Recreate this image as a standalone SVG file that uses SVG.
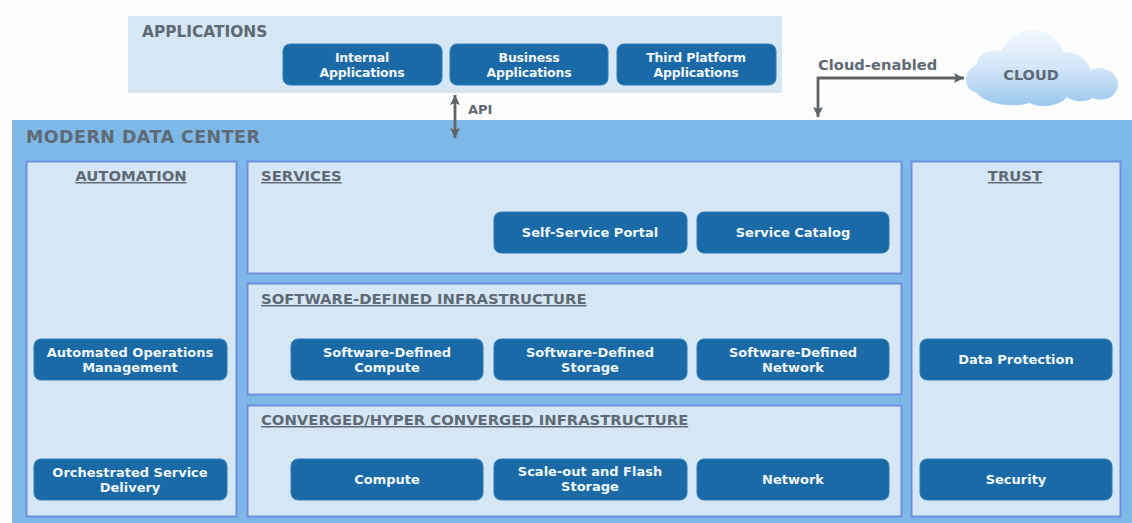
<svg xmlns="http://www.w3.org/2000/svg" width="1132" height="523" viewBox="0 0 1132 523">
<style>
text{font-family:"DejaVu Sans","Liberation Sans",sans-serif;font-weight:700}
.panel{fill:#d5e7f4;stroke:#6f8fdc;stroke-width:2}
.btn{fill:#1a6aa8;stroke:#2f7db8;stroke-width:1}
.bt{fill:#f1f6fa;font-size:12.5px;text-anchor:middle;letter-spacing:-.2px}
.bl{fill:#f1f6fa;font-size:13px;text-anchor:middle}
.h{fill:#5f6a76;font-size:14.8px;text-decoration:underline}
.m{fill:#5f6a76}
.conn{fill:none;stroke:#5e6468;stroke-width:2.8}
</style>
<defs>
<marker id="a" markerUnits="userSpaceOnUse" markerWidth="12" markerHeight="12" refX="10" refY="6" orient="auto-start-reverse"><path d="M0 1L10 6L0 11L2 6Z" fill="#5e6468"/></marker>
<linearGradient id="cg" x1="0" y1="0" x2="0" y2="1"><stop offset="0" stop-color="#f2f8fd"/><stop offset=".5" stop-color="#d3e6f8"/><stop offset="1" stop-color="#9cc7ef"/></linearGradient>
</defs>
<rect width="1132" height="523" fill="#fdfdfd"/>
<g id="data-center"><rect x="12" y="120" width="1120" height="403" fill="#7db8e8"/><text x="26" y="143" class="m" font-size="17.400" letter-spacing=".5">MODERN DATA CENTER</text></g>
<g id="applications"><rect x="128" y="16" width="654" height="77" fill="#d5e7f4"/><text x="142" y="37" class="m" font-size="15.400">APPLICATIONS</text></g>
<g id="internal-applications"><rect class="btn" x="283" y="44" width="159" height="41" rx="7"/><text class="bt" x="362" y="62">Internal</text><text class="bt" x="362" y="77">Applications</text></g>
<g id="business-applications"><rect class="btn" x="450" y="44" width="158" height="41" rx="7"/><text class="bt" x="529" y="62">Business</text><text class="bt" x="529" y="77">Applications</text></g>
<g id="third-platform-applications"><rect class="btn" x="617" y="44" width="159" height="41" rx="7"/><text class="bt" x="696" y="62">Third Platform</text><text class="bt" x="696" y="77">Applications</text></g>
<g id="cloud"><path d="M976 92C963 90 962 70 977 65C976 55 990 48 1002 51C1008 34 1036 22 1051 36C1058 41 1062 46 1064 52C1075 52 1085 56 1091 70C1102 64 1118 72 1118 84C1118 96 1105 103 1093 98C1085 103 1073 102 1067 97C1060 106 1040 109 1030 103C1015 108 985 105 976 92Z" fill="url(#cg)"/><text x="1031" y="80" class="m" font-size="14.500" text-anchor="middle">CLOUD</text></g>
<g id="connectors">
<path class="conn" d="M455 95V138" marker-start="url(#a)" marker-end="url(#a)"/>
<path class="conn" d="M964 78H818V117" marker-start="url(#a)" marker-end="url(#a)"/>
<text x="468" y="114" class="m" font-size="13">API</text>
<text x="818" y="70" class="m" font-size="14.700">Cloud-enabled</text>
</g>
<g id="automation"><rect class="panel" x="26.500" y="161.500" width="210" height="355"/><text class="h" x="131" y="181" text-anchor="middle">AUTOMATION</text></g>
<g id="services"><rect class="panel" x="247.500" y="161.500" width="654" height="112"/><text class="h" x="261" y="181">SERVICES</text></g>
<g id="software-defined-infrastructure"><rect class="panel" x="247.500" y="283.500" width="654" height="111"/><text class="h" x="261" y="304">SOFTWARE-DEFINED INFRASTRUCTURE</text></g>
<g id="converged-infrastructure"><rect class="panel" x="247.500" y="405.500" width="654" height="111"/><text class="h" x="261" y="425">CONVERGED/HYPER CONVERGED INFRASTRUCTURE</text></g>
<g id="trust"><rect class="panel" x="911.500" y="161.500" width="209" height="355"/><text class="h" x="1015" y="181" text-anchor="middle">TRUST</text></g>
<g id="automated-operations"><rect class="btn" x="34" y="339" width="193" height="41" rx="7"/><text class="bl" x="130" y="357">Automated Operations</text><text class="bl" x="130" y="372">Management</text></g>
<g id="orchestrated-service"><rect class="btn" x="34" y="459" width="193" height="41" rx="7"/><text class="bl" x="130" y="477">Orchestrated Service</text><text class="bl" x="130" y="492">Delivery</text></g>
<g id="self-service-portal"><rect class="btn" x="494" y="212" width="193" height="41" rx="7"/><text class="bl" x="590" y="237">Self-Service Portal</text></g>
<g id="service-catalog"><rect class="btn" x="697" y="212" width="192" height="41" rx="7"/><text class="bl" x="793" y="237">Service Catalog</text></g>
<g id="sd-compute"><rect class="btn" x="291" y="339" width="192" height="41" rx="7"/><text class="bl" x="387" y="357">Software-Defined</text><text class="bl" x="387" y="372">Compute</text></g>
<g id="sd-storage"><rect class="btn" x="494" y="339" width="193" height="41" rx="7"/><text class="bl" x="590" y="357">Software-Defined</text><text class="bl" x="590" y="372">Storage</text></g>
<g id="sd-network"><rect class="btn" x="697" y="339" width="192" height="41" rx="7"/><text class="bl" x="793" y="357">Software-Defined</text><text class="bl" x="793" y="372">Network</text></g>
<g id="compute"><rect class="btn" x="291" y="459" width="192" height="41" rx="7"/><text class="bl" x="387" y="484">Compute</text></g>
<g id="scale-out"><rect class="btn" x="494" y="459" width="193" height="41" rx="7"/><text class="bl" x="590" y="476">Scale-out and Flash</text><text class="bl" x="590" y="491">Storage</text></g>
<g id="network"><rect class="btn" x="697" y="459" width="192" height="41" rx="7"/><text class="bl" x="793" y="484">Network</text></g>
<g id="data-protection"><rect class="btn" x="920" y="339" width="192" height="41" rx="7"/><text class="bl" x="1016" y="364">Data Protection</text></g>
<g id="security"><rect class="btn" x="920" y="459" width="192" height="41" rx="7"/><text class="bl" x="1016" y="484">Security</text></g>
</svg>
